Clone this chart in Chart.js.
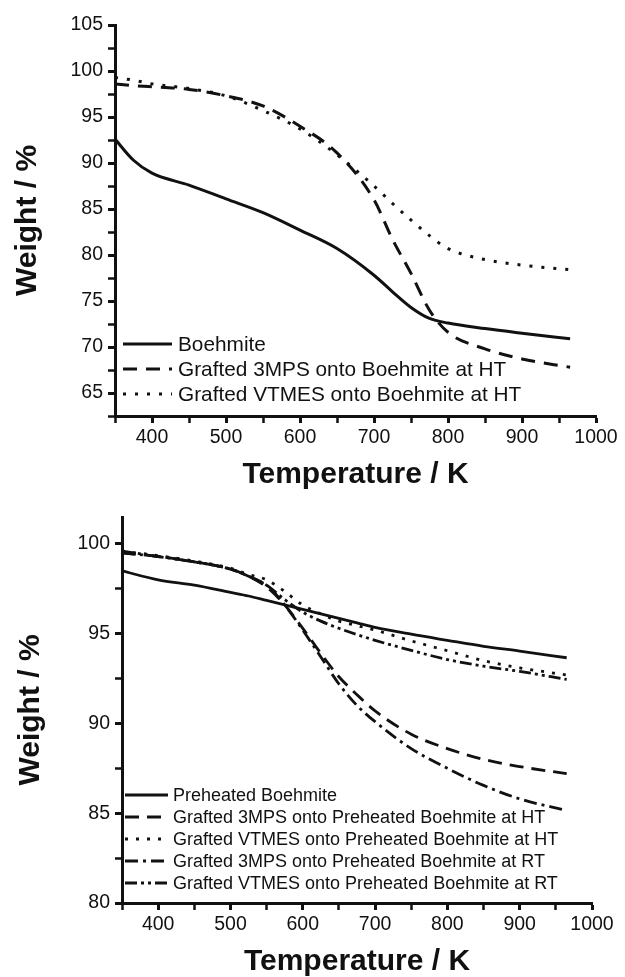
<!DOCTYPE html>
<html>
<head>
<meta charset="utf-8">
<script src="https://cdn.jsdelivr.net/npm/chart.js@4/dist/chart.umd.min.js"></script>
<style>
  body { margin: 0; background: #fff; }
  .box { position: absolute; left: 0; }
</style>
</head>
<body>
<div class="box" style="top:0"><canvas id="chartTop" width="625" height="490"></canvas></div>
<div class="box" style="top:490px"><canvas id="chartBottom" width="625" height="487"></canvas></div>
<script>
// top panel: untreated boehmite
const tempsTop = [350, 375, 400, 450, 500, 550, 600, 650, 700, 725, 750, 775, 800, 850, 900, 965];
const boehmite = [92.6, 90.3, 88.9, 87.6, 86.1, 84.6, 82.7, 80.7, 77.8, 76.0, 74.3, 73.1, 72.6, 72.0, 71.5, 70.9];
const mps3HT = [98.6, 98.4, 98.3, 98.0, 97.3, 96.2, 94.0, 91.1, 86.0, 81.7, 78.0, 74.0, 71.6, 69.8, 68.7, 67.8];
const vtmesHT = [99.3, 99.0, 98.6, 98.1, 97.3, 95.7, 93.7, 90.9, 87.5, 85.6, 83.8, 82.1, 80.7, 79.5, 78.9, 78.4];

// bottom panel: preheated boehmite
const tempsBottom = [350, 400, 450, 500, 525, 550, 575, 600, 625, 650, 675, 700, 750, 800, 850, 900, 965];
const preBoehmite = [98.5, 98.0, 97.7, 97.3, 97.1, 96.85, 96.6, 96.35, 96.1, 95.85, 95.6, 95.35, 94.97, 94.63, 94.3, 94.03, 93.66];
const preMps3HT = [99.5, 99.3, 99.0, 98.6, 98.2, 97.6, 96.6, 95.3, 93.9, 92.6, 91.6, 90.7, 89.4, 88.6, 88.0, 87.6, 87.2];
const preVtmesHT = [99.6, 99.35, 99.05, 98.65, 98.3, 98.0, 97.35, 96.6, 96.1, 95.7, 95.45, 95.2, 94.6, 94.05, 93.5, 93.1, 92.7];
const preMps3RT = [99.5, 99.3, 99.0, 98.6, 98.2, 97.7, 96.6, 95.2, 93.7, 92.2, 91.0, 90.1, 88.6, 87.5, 86.55, 85.8, 85.15];
const preVtmesRT = [99.6, 99.3, 99.0, 98.6, 98.2, 97.7, 96.9, 96.2, 95.7, 95.3, 94.95, 94.63, 94.07, 93.56, 93.19, 92.9, 92.45];

const labelsTop = ['Boehmite', 'Grafted 3MPS onto Boehmite at HT', 'Grafted VTMES onto Boehmite at HT'];
const labelsBottom = ['Preheated Boehmite', 'Grafted 3MPS onto Preheated Boehmite at HT',
  'Grafted VTMES onto Preheated Boehmite at HT', 'Grafted 3MPS onto Preheated Boehmite at RT',
  'Grafted VTMES onto Preheated Boehmite at RT'];

const INK = '#111';
Chart.defaults.font.family = '"Liberation Sans", Arial, sans-serif';
Chart.defaults.color = INK;

function points(xs, ys) {
  return xs.map((x, i) => ({ x: x, y: ys[i] }));
}

function series(label, xs, ys, dash, width) {
  return {
    label: label,
    data: points(xs, ys),
    borderColor: INK,
    borderWidth: width,
    borderDash: dash,
    borderCapStyle: 'butt',
    pointRadius: 0,
    fill: false,
    cubicInterpolationMode: 'monotone'
  };
}

// legend drawn inside the plot, bottom-left
const insideLegend = {
  id: 'insideLegend',
  afterDraw(chart, args, opts) {
    const ctx = chart.ctx;
    ctx.save();
    ctx.font = opts.size + 'px "Liberation Sans", Arial, sans-serif';
    ctx.textBaseline = 'middle';
    ctx.fillStyle = INK;
    chart.data.datasets.forEach((ds, i) => {
      const y = opts.y + i * opts.rowH;
      ctx.beginPath();
      ctx.setLineDash(ds.borderDash || []);
      ctx.lineWidth = ds.borderWidth;
      ctx.strokeStyle = INK;
      ctx.moveTo(opts.x, y);
      ctx.lineTo(opts.x + opts.len, y);
      ctx.stroke();
      ctx.setLineDash([]);
      ctx.fillText(ds.label, opts.x + opts.len + opts.gap, y + 1);
    });
    ctx.restore();
  }
};

function makeOptions(cfg) {
  return {
    responsive: false,
    animation: false,
    devicePixelRatio: 1,
    layout: { padding: { top: cfg.padTop, right: cfg.padRight, left: 0, bottom: 0 } },
    plugins: {
      legend: { display: false },
      tooltip: { enabled: false },
      insideLegend: cfg.legend
    },
    scales: {
      x: {
        type: 'linear',
        min: 350,
        max: 1000,
        afterFit: s => { s.height = 74; },
        border: { display: true, color: INK, width: 3 },
        grid: {
          drawOnChartArea: false,
          tickLength: 7,
          tickColor: INK,
          tickWidth: c => (c.tick && c.tick.value % 100 === 0 ? 3 : 2.5)
        },
        ticks: {
          stepSize: 50,
          padding: 3,
          font: { size: 19.5 },
          maxRotation: 0,
          autoSkip: false,
          callback: v => (v % 100 === 0 ? v : '')
        },
        title: {
          display: true,
          text: 'Temperature / K',
          font: { size: 30, weight: 'bold', lineHeight: 1 },
          padding: { top: 0, bottom: cfg.xTitlePad }
        }
      },
      y: {
        min: cfg.yMin,
        max: cfg.yMax,
        afterFit: s => { s.width = cfg.yWidth; },
        border: { display: true, color: INK, width: 3 },
        grid: {
          drawOnChartArea: false,
          tickLength: 7,
          tickColor: c => (c.tick && Math.abs(c.tick.value / 2.5 - Math.round(c.tick.value / 2.5)) < 1e-6 ? INK : 'rgba(0,0,0,0)'),
          tickWidth: c => (c.tick && c.tick.value % 5 === 0 ? 3 : 2.5)
        },
        ticks: {
          stepSize: 2.5,
          padding: 5,
          font: { size: 19.5 },
          autoSkip: false,
          callback: v => (v % 5 === 0 ? v : '')
        },
        title: {
          display: true,
          text: 'Weight / %',
          font: { size: 30, weight: 'bold', lineHeight: 1 },
          padding: { top: cfg.yTitlePad, bottom: 0 }
        }
      }
    }
  };
}

new Chart(document.getElementById('chartTop'), {
  type: 'line',
  data: {
    datasets: [
      series(labelsTop[0], tempsTop, boehmite, [], 3),
      series(labelsTop[1], tempsTop, mps3HT, [14, 9], 3),
      series(labelsTop[2], tempsTop, vtmesHT, [3, 9], 3)
    ]
  },
  options: makeOptions({
    padTop: 25, padRight: 29, yMin: 62.5, yMax: 105, yWidth: 115,
    xTitlePad: 0, yTitlePad: 13,
    legend: { x: 123, y: 344, rowH: 25, len: 49, gap: 6, size: 20.8 }
  }),
  plugins: [insideLegend]
});

new Chart(document.getElementById('chartBottom'), {
  type: 'line',
  data: {
    datasets: [
      series(labelsBottom[0], tempsBottom, preBoehmite, [], 2.8),
      series(labelsBottom[1], tempsBottom, preMps3HT, [14, 8], 2.8),
      series(labelsBottom[2], tempsBottom, preVtmesHT, [3, 8], 2.8),
      series(labelsBottom[3], tempsBottom, preMps3RT, [13, 5, 3, 5], 2.8),
      series(labelsBottom[4], tempsBottom, preVtmesRT, [12, 4, 3, 4, 3, 4], 2.8)
    ]
  },
  options: makeOptions({
    padTop: 27, padRight: 33, yMin: 80, yMax: 101.5, yWidth: 122,
    xTitlePad: 0, yTitlePad: 16,
    legend: { x: 125, y: 305, rowH: 22, len: 43, gap: 5, size: 18 }
  }),
  plugins: [insideLegend]
});
</script>
</body>
</html>
